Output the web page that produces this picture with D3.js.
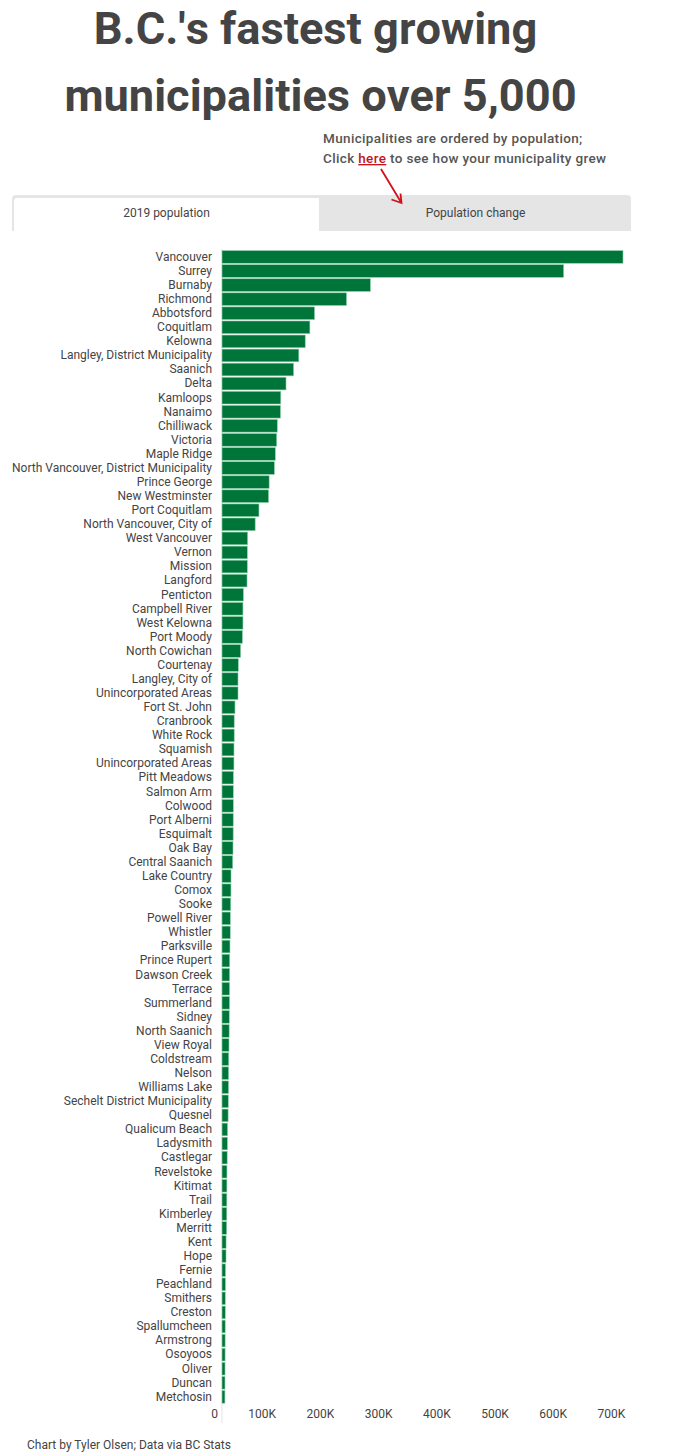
<!DOCTYPE html>
<html>
<head>
<meta charset="utf-8">
<script src="https://cdn.jsdelivr.net/npm/d3@7.9.0/dist/d3.min.js"></script>
<style>
  html, body { margin: 0; padding: 0; background: #fff; }
  svg { display: block; font-family: Roboto, sans-serif; }
  .title { font-size: 45.2px; font-weight: 700; fill: #444; text-anchor: middle; font-kerning: none; }
  .note { font-size: 13.5px; font-weight: 500; fill: #555; letter-spacing: 0.35px; }
  .tab-label { font-size: 12px; fill: #444; text-anchor: middle; }
  .credit { font-size: 12px; fill: #444; }
  .axis text { font-family: Roboto, sans-serif; font-size: 12px; fill: #444; }
  .axis path, .axis line { stroke: none; }
</style>
</head>
<body>
<svg id="chart" width="675" height="1453"></svg>
<script>
const titleLines = ["B.C.'s fastest growing", "municipalities over 5,000"];
const tabLabels = ["2019 population", "Population change"];
const creditText = "Chart by Tyler Olsen; Data via BC Stats";

const municipalities = [
  "Vancouver", "Surrey", "Burnaby", "Richmond", "Abbotsford", "Coquitlam", "Kelowna",
  "Langley, District Municipality", "Saanich", "Delta", "Kamloops", "Nanaimo", "Chilliwack",
  "Victoria", "Maple Ridge", "North Vancouver, District Municipality", "Prince George",
  "New Westminster", "Port Coquitlam", "North Vancouver, City of", "West Vancouver", "Vernon",
  "Mission", "Langford", "Penticton", "Campbell River", "West Kelowna", "Port Moody",
  "North Cowichan", "Courtenay", "Langley, City of", "Unincorporated Areas", "Fort St. John",
  "Cranbrook", "White Rock", "Squamish", "Unincorporated Areas", "Pitt Meadows", "Salmon Arm",
  "Colwood", "Port Alberni", "Esquimalt", "Oak Bay", "Central Saanich", "Lake Country", "Comox",
  "Sooke", "Powell River", "Whistler", "Parksville", "Prince Rupert", "Dawson Creek", "Terrace",
  "Summerland", "Sidney", "North Saanich", "View Royal", "Coldstream", "Nelson", "Williams Lake",
  "Sechelt District Municipality", "Quesnel", "Qualicum Beach", "Ladysmith", "Castlegar",
  "Revelstoke", "Kitimat", "Trail", "Kimberley", "Merritt", "Kent", "Hope", "Fernie", "Peachland",
  "Smithers", "Creston", "Spallumcheen", "Armstrong", "Osoyoos", "Oliver", "Duncan", "Metchosin"
];

const population2019 = [
  689000, 587000, 255000, 214000, 159000, 151000, 143000,
  132000, 123000, 110000, 101000, 100500, 95000,
  94000, 91600, 90000, 81000,
  80000, 63500, 57000, 44000, 43500,
  43500, 43000, 36700, 36000, 36000, 35000,
  32000, 28000, 27500, 27500, 22300,
  21000, 21000, 20600, 20500, 19500, 19400,
  19400, 19300, 19200, 18900, 18400, 15500, 15400,
  15000, 14300, 14200, 13700, 13200, 13100, 13000,
  12900, 12500, 12300, 12000, 11600, 11300, 11200,
  10800, 10500, 9500, 9300, 8900,
  8500, 8400, 8300, 8200, 8000, 7000, 6900, 6000, 5900,
  5600, 5600, 5500, 5400, 5300, 5200, 5100, 5000
];

const xTickValues = [0, 100000, 200000, 300000, 400000, 500000, 600000, 700000];

const svg = d3.select("#chart");

// title and note
svg.selectAll(".title")
  .data(titleLines)
  .join("text")
  .attr("class", "title")
  .attr("x", (d, i) => (i === 0 ? 315.5 : 320.5))
  .attr("y", (d, i) => 44 + i * 67)
  .text((d) => d);

svg.append("text").attr("class", "note").attr("x", 323).attr("y", 143)
  .text("Municipalities are ordered by population;");

const clickLine = svg.append("text").attr("class", "note").attr("x", 323).attr("y", 163);
clickLine.append("tspan").text("Click ");
clickLine.append("tspan").attr("fill", "#c4161c").attr("text-decoration", "underline").text("here");
clickLine.append("tspan").text(" to see how your municipality grew");

// tabs
svg.append("path")
  .attr("d", "M12,231V199a4,4 0 0 1 4,-4H627a4,4 0 0 1 4,4V231Z")
  .attr("fill", "#e5e5e5");
svg.append("path")
  .attr("d", "M14,231V201a3,3 0 0 1 3,-3H319V231Z")
  .attr("fill", "#fff");
svg.selectAll(".tab-label")
  .data(tabLabels)
  .join("text")
  .attr("class", "tab-label")
  .attr("x", (d, i) => (i === 0 ? 166.5 : 475.5))
  .attr("y", 216.5)
  .text((d) => d);

// arrow from the note down to the second tab
svg.append("path")
  .attr("d", "M381,169L401.5,203M391.5,199.5L401.5,203L400.5,193.5")
  .attr("fill", "none")
  .attr("stroke", "#d0121b")
  .attr("stroke-width", 1.8);

// scales
const x = d3.scaleLinear().domain([0, 700000]).range([222, 629.4]);
const y = d3.scaleBand()
  .domain(d3.range(municipalities.length))
  .range([249.9, 1403.9])
  .paddingInner(0.1)
  .paddingOuter(0.05);

// zero line
svg.append("line")
  .attr("x1", x(0)).attr("x2", x(0))
  .attr("y1", 249).attr("y2", 1423)
  .attr("stroke", "#e3e3e3");

// bars
svg.append("g")
  .selectAll("rect")
  .data(population2019)
  .join("rect")
  .attr("x", x(0))
  .attr("y", (d, i) => y(i))
  .attr("width", (d) => x(d) - x(0))
  .attr("height", y.bandwidth())
  .attr("fill", "#00753a")
  .attr("stroke", "#8fcfab")
  .attr("stroke-width", 0.6);

// axes
svg.append("g")
  .attr("class", "axis")
  .attr("transform", `translate(${x(0)},0)`)
  .call(d3.axisLeft(y).tickSize(0).tickPadding(10).tickFormat((i) => municipalities[i]));

const xAxis = svg.append("g")
  .attr("class", "axis")
  .attr("transform", "translate(0,1405)")
  .call(d3.axisBottom(x)
    .tickValues(xTickValues)
    .tickSize(0)
    .tickPadding(4)
    .tickFormat((d) => (d === 0 ? "0" : d / 1000 + "K")));
xAxis.selectAll("text").attr("text-anchor", "end").attr("dx", -4.6);

svg.append("text").attr("class", "credit").attr("x", 27).attr("y", 1449).text(creditText);
</script>
</body>
</html>
